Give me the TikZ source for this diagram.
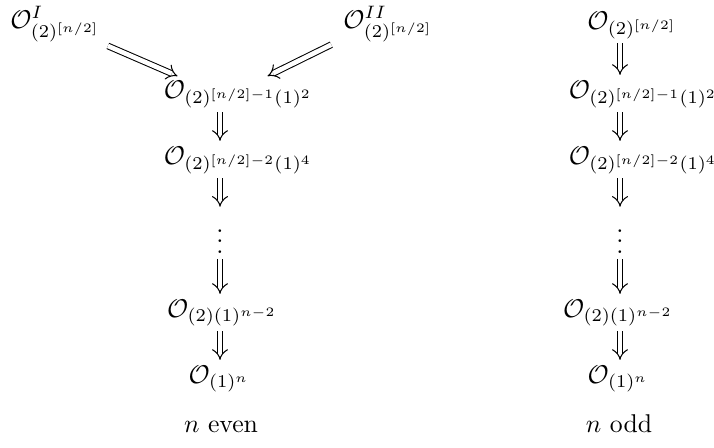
\documentclass[tikz,border=0pt]{standalone}
\usepackage{amsmath,amssymb}
\usetikzlibrary{arrows.meta}

\begin{document}
\begin{tikzpicture}[x=0.389pt, y=-0.389pt,
		orb/.style={inner sep=0pt, anchor=base},
		imp/.style={double, double distance=1.8pt, -{Implies}, line width=0.4pt}
		]
		\useasboundingbox (0,0) rectangle (714,447);
		\coordinate (colL) at (220,0);
		\coordinate (colR) at (620,0);
		% n even
		\node[orb] (oI) at (55,28) {$\mathcal{O}^{I}_{(2)^{[n/2]}}$};
		\node[orb] (oII) at (388,28) {$\mathcal{O}^{II}_{(2)^{[n/2]}}$};
		\node[orb] (l1) at (238,98) {$\mathcal{O}_{(2)^{[n/2]-1}(1)^2}$};
		\node[orb] (l2) at (238,164) {$\mathcal{O}_{(2)^{[n/2]-2}(1)^4}$};
		\node[orb] (ldots) at (220,253) {$\vdots$};
		\node[orb] (l3) at (222,317) {$\mathcal{O}_{(2)(1)^{n-2}}$};
		\node[orb] (l4) at (219,383) {$\mathcal{O}_{(1)^n}$};
		\node[orb] (even) at (221,432) {$n$ even};
		\draw[imp] ([xshift=3pt,yshift=-1.3pt]oI.south east)
		-- ([xshift=5.5pt,yshift=1.5pt]l1.north west);
		\draw[imp] ([xshift=-4.5pt,yshift=-0.8pt]oII.south west)
		-- ([xshift=11.5pt,yshift=1.5pt]l1.north);
		\draw[imp] ([yshift=-5.5pt]l1.base -| colL) -- ([yshift=9pt]l2.base -| colL);
		\draw[imp] ([yshift=-5.5pt]l2.base -| colL) -- ([yshift=18pt]ldots.base -| colL);
		\draw[imp] ([yshift=-2.5pt]ldots.base -| colL) -- ([yshift=9pt]l3.base -| colL);
		\draw[imp] ([yshift=-5.5pt]l3.base -| colL) -- ([yshift=9pt]l4.base -| colL);
		% n odd
		\node[orb] (r0) at (632,29) {$\mathcal{O}_{(2)^{[n/2]}}$};
		\node[orb] (r1) at (643,98) {$\mathcal{O}_{(2)^{[n/2]-1}(1)^2}$};
		\node[orb] (r2) at (643,164) {$\mathcal{O}_{(2)^{[n/2]-2}(1)^4}$};
		\node[orb] (rdots) at (620,253) {$\vdots$};
		\node[orb] (r3) at (618,317) {$\mathcal{O}_{(2)(1)^{n-2}}$};
		\node[orb] (r4) at (618,383) {$\mathcal{O}_{(1)^n}$};
		\node[orb] (odd) at (619,432) {$n$ odd};
		\draw[imp] ([yshift=-5.5pt]r0.base -| colR) -- ([yshift=9pt]r1.base -| colR);
		\draw[imp] ([yshift=-5.5pt]r1.base -| colR) -- ([yshift=9pt]r2.base -| colR);
		\draw[imp] ([yshift=-5.5pt]r2.base -| colR) -- ([yshift=18pt]rdots.base -| colR);
		\draw[imp] ([yshift=-2.5pt]rdots.base -| colR) -- ([yshift=9pt]r3.base -| colR);
		\draw[imp] ([yshift=-5.5pt]r3.base -| colR) -- ([yshift=9pt]r4.base -| colR);
	\end{tikzpicture}
\end{document}
